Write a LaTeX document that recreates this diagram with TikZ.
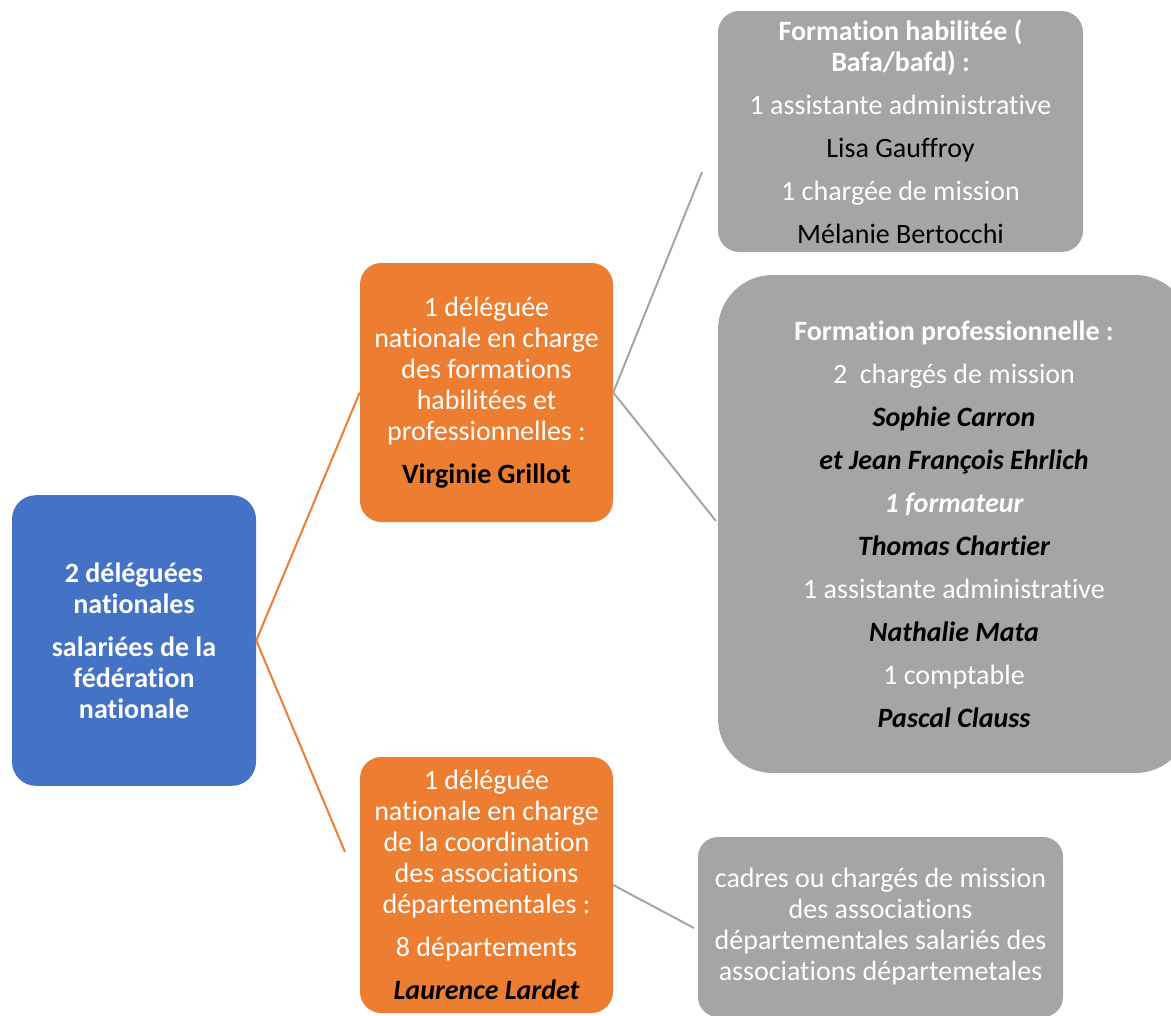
\documentclass[tikz,border=0pt]{standalone}
\usepackage{fontspec}
\setmainfont{Carlito}[Ligatures=NoCommon]
\definecolor{blueBox}{HTML}{4472C4}
\definecolor{orangeBox}{HTML}{ED7D31}
\definecolor{grayBox}{HTML}{A5A5A5}
\newcommand{\nameB}[1]{{\color{black}\bfseries\itshape #1}}
\begin{document}
\begin{tikzpicture}[x=0.75pt,y=-0.75pt,
    box/.style={align=center,inner sep=0pt,text=white,
      font=\fontsize{21}{23.25}\selectfont},
    orangeLine/.style={draw=orangeBox,line width=1.5pt},
    grayLine/.style={draw=grayBox,line width=1.5pt}]
    \useasboundingbox (0,0) rectangle (1171,1015);
    \clip (0,0) rectangle (1171,1015);
    %% Root
    \node[box,fill=blueBox,rounded corners=18pt,minimum width=183pt,minimum height=218pt] (root) at (134,640.5)
      {{\bfseries 2 déléguées}\\{\bfseries nationales}\\[9pt]{\bfseries salariées de la}\\{\bfseries fédération}\\{\bfseries nationale}};
    %% Delegates
    \node[box,fill=orangeBox,rounded corners=16pt,minimum width=189.75pt,minimum height=194.25pt] (hab) at (486.5,392.5)
      {1 déléguée\\nationale en charge\\des formations\\habilitées et\\professionnelles :\\[9pt]{\color{black}\bfseries Virginie Grillot}};
    \node[box,fill=orangeBox,rounded corners=16pt,minimum width=189.75pt,minimum height=192pt] (coord) at (486.5,885)
      {1 déléguée\\nationale en charge\\de la coordination\\des associations\\départementales :\\[9pt]8 départements\\[9pt]\nameB{Laurence Lardet}};
    %% Teams
    \node[box,fill=grayBox,rounded corners=16pt,minimum width=273.75pt,minimum height=180.75pt] (bafa) at (900.5,131.5)
      {{\bfseries Formation habilitée (}\\{\bfseries Bafa/bafd) :}\\[9pt]1 assistante administrative\\[9pt]{\color{black}Lisa Gauffroy}\\[9pt]1 chargée de mission\\[9pt]{\color{black}Mélanie Bertocchi}};
    \node[box,fill=grayBox,rounded corners=41pt,minimum width=354pt,minimum height=373.5pt] (pro) at (954,524)
      {{\bfseries Formation professionnelle :}\\[9pt]2~ chargés de mission\\[9pt]\nameB{Sophie Carron}\\[9pt]\nameB{et Jean François Ehrlich}\\[9pt]{\bfseries\itshape 1 formateur}\\[9pt]\nameB{Thomas Chartier}\\[9pt]1 assistante administrative\\[9pt]\nameB{Nathalie Mata}\\[9pt]1 comptable\\[9pt]\nameB{Pascal Clauss}};
    \node[box,fill=grayBox,rounded corners=15pt,minimum width=273.75pt,minimum height=135pt] (dep) at (880.5,927)
      {cadres ou chargés de mission\\des associations\\départementales salariés des\\associations départemetales};
    %% Connectors
    \coordinate (lowEnd) at (345,852);
    \coordinate (bafaEnd) at (702,172);
    \coordinate (proEnd) at (716,521);
    \coordinate (depEnd) at (694,928);
    \draw[orangeLine] (root.east) -- (hab.west);
    \draw[orangeLine] (root.east) -- (lowEnd);
    \draw[grayLine] (hab.east) -- (bafaEnd);
    \draw[grayLine] (hab.east) -- (proEnd);
    \draw[grayLine] (coord.east) -- (depEnd);
\end{tikzpicture}
\end{document}
